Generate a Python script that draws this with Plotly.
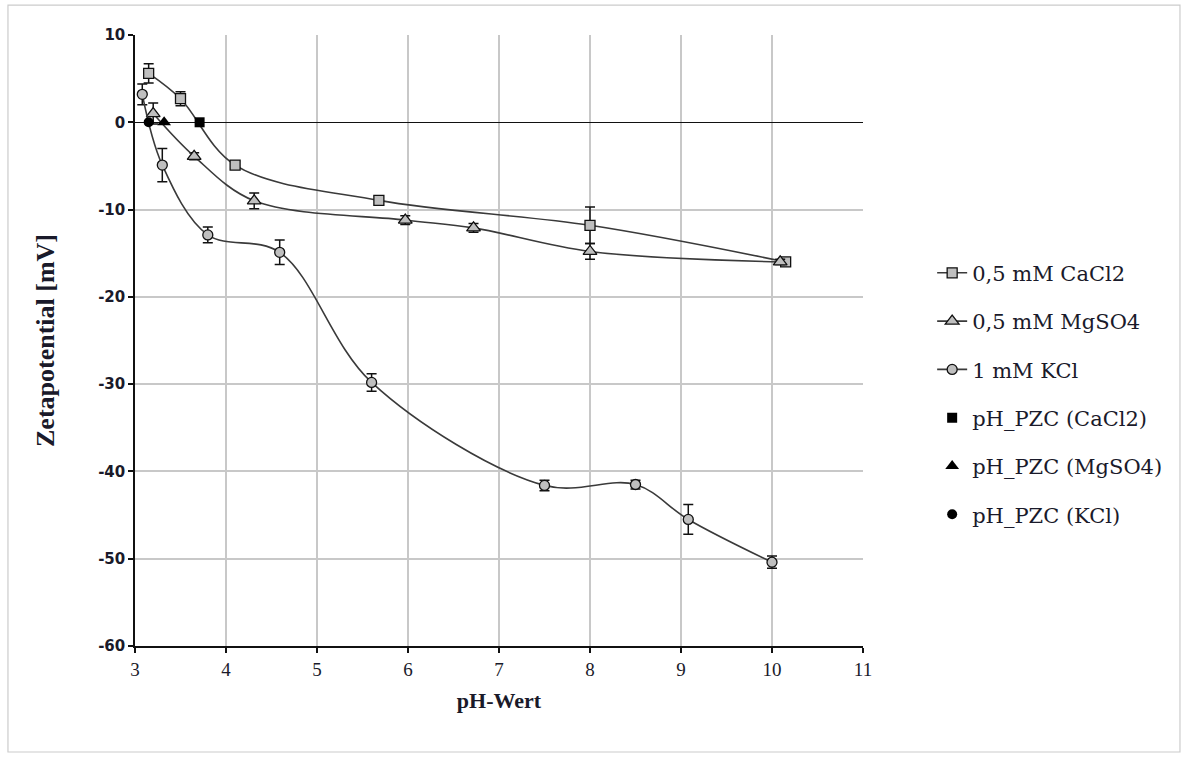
import plotly.graph_objects as go

# ---- data ----
ca_x = [3.15, 3.50, 4.10, 5.68, 8.00, 10.15]
ca_y = [5.6, 2.7, -4.9, -8.95, -11.8, -16.0]
ca_err = [1.1, 0.8, 0.4, 0.5, 2.1, 0.3]

mg_x = [3.20, 3.65, 4.31, 5.97, 6.72, 8.00, 10.09]
mg_y = [1.0, -3.9, -9.0, -11.2, -12.1, -14.8, -16.0]
mg_err = [1.2, 0.4, 0.9, 0.5, 0.5, 0.9, 0.3]

kcl_x = [3.08, 3.30, 3.80, 4.59, 5.60, 7.50, 8.50, 9.08, 10.00]
kcl_y = [3.2, -4.9, -12.9, -14.9, -29.8, -41.6, -41.5, -45.5, -50.4]
kcl_err = [1.2, 1.9, 0.9, 1.4, 1.0, 0.6, 0.5, 1.7, 0.7]

pzc_ca = (3.71, 0.0)
pzc_mg = (3.32, 0.0)
pzc_kcl = (3.15, 0.0)

names = ["0,5 mM CaCl2", "0,5 mM MgSO4", "1 mM KCl",
         "pH_PZC (CaCl2)", "pH_PZC (MgSO4)", "pH_PZC (KCl)"]

x_ticks = list(range(3, 12))
y_ticks = list(range(-60, 11, 10))

LINE = "#3a3a3a"
FILL = "#bfbfbf"

fig = go.Figure()

def series(x, y, err, name, symbol, size):
    fig.add_trace(go.Scatter(
        x=x, y=y, name=name, legendgroup=name, mode="lines+markers",
        line=dict(color=LINE, width=1.6, shape="spline", smoothing=1.0),
        marker=dict(symbol=symbol, size=size, color=FILL,
                    line=dict(color="#111111", width=1.3)),
        error_y=dict(type="data", array=err, visible=True,
                     color="#111111", thickness=1.5, width=5),
    ))

series(ca_x, ca_y, ca_err, names[0], "square", 10)
series(mg_x, mg_y, mg_err, names[1], "triangle-up", 12)
series(kcl_x, kcl_y, kcl_err, names[2], "circle", 10)

for (px, py), name, sym in zip([pzc_ca, pzc_mg, pzc_kcl], names[3:],
                               ["square", "triangle-up", "circle"]):
    fig.add_trace(go.Scatter(
        x=[px], y=[py], name=name, legendgroup=name, mode="markers",
        marker=dict(symbol=sym, size=10 if sym != "triangle-up" else 12,
                    color="black"),
    ))

fig.update_layout(
    width=1190, height=760,
    margin=dict(l=135, r=327, t=35, b=114),
    paper_bgcolor="white", plot_bgcolor="white",
    showlegend=True,
    legend=dict(x=1.095, xanchor="left", y=0.413, yanchor="middle",
                traceorder="grouped", tracegroupgap=18,
                font=dict(family="DejaVu Serif", size=21, color="#1a1a2a"),
                bgcolor="rgba(0,0,0,0)"),
    xaxis=dict(range=[3, 11], tickvals=x_ticks, ticktext=[str(v) for v in x_ticks],
               showgrid=True, gridcolor="#c8c8c8", gridwidth=1.5,
               showline=True, linecolor="#111111", linewidth=1.5,
               ticks="outside", ticklen=5, tickcolor="#111111", tickwidth=1.5,
               zeroline=False,
               tickfont=dict(family="Liberation Serif", size=19, color="#1a1a2a"),
               title=dict(text="<b>pH-Wert</b>", standoff=14,
                          font=dict(family="Liberation Serif", size=22, color="#1a1a2a"))),
    yaxis=dict(range=[-60, 10], tickvals=y_ticks, ticktext=[str(v) for v in y_ticks],
               showgrid=True, gridcolor="#c8c8c8", gridwidth=1.5,
               showline=True, linecolor="#111111", linewidth=1.5,
               ticks="outside", ticklen=5, tickcolor="#111111", tickwidth=1.5,
               zeroline=True, zerolinecolor="#111111", zerolinewidth=1.2,
               tickfont=dict(family="DejaVu Sans", size=15, color="#1a1a2a", weight="bold"),
               title=dict(text="<b>Zetapotential [mV]</b>", standoff=36,
                          font=dict(family="Liberation Serif", size=26, color="#1a1a2a"))),
    shapes=[dict(type="rect", xref="paper", yref="paper",
                 x0=-0.1745, x1=1.4354, y0=-0.1735, y1=1.049,
                 line=dict(color="#cccccc", width=1.2), fillcolor="rgba(0,0,0,0)",
                 layer="below")],
)

fig.write_html("out.html")
